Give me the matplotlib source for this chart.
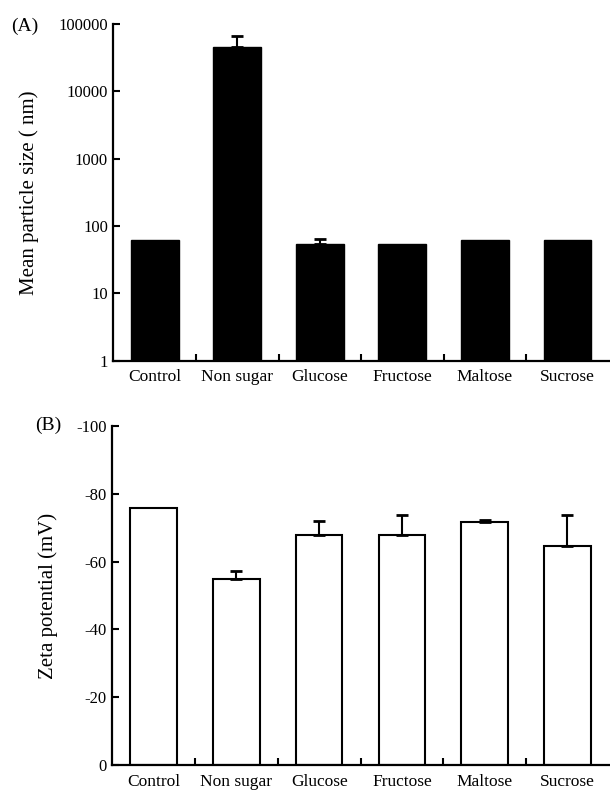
import numpy as np
import matplotlib
matplotlib.use("Agg")
from matplotlib import pyplot as plt

categories = ["Control", "Non sugar", "Glucose", "Fructose", "Maltose", "Sucrose"]
size_nm = [61, 44700, 54.5, 54, 61, 61]
size_err = [0, 21000, 10, 0, 0, 0]
zeta_mv = [-75.7, -54.9, -67.8, -67.8, -71.6, -64.7]
zeta_err = [0, 2.4, 4.3, 5.8, 0.7, 9.1]

plt.rcParams['font.family'] = ['Liberation Serif', 'DejaVu Serif']
plt.rcParams['font.size'] = 12


def style_axis(ax, n):
    ax.spines['top'].set_visible(False)
    ax.spines['right'].set_visible(False)
    for s in ['left', 'bottom']:
        ax.spines[s].set_linewidth(1.6)
    ax.set_xlim(-0.5, n - 0.5)
    ax.set_xticks(np.arange(n))
    ax.set_xticklabels(categories, fontsize=12.5)
    ax.tick_params(axis='x', which='major', length=0, pad=6)
    # ticks between categories
    ax.set_xticks(np.arange(n - 1) + 0.5, minor=True)
    ax.tick_params(axis='x', which='minor', direction='in', length=5, width=1.5)
    ax.tick_params(axis='y', which='major', direction='in', length=5, width=1.5, labelsize=12, pad=4)
    ax.tick_params(axis='y', which='minor', length=0)


def up_errors(ax, x, vals, errs, sign):
    # only draw the bars that have an error, one-sided away from zero
    idx = [i for i, e in enumerate(errs) if e > 0]
    xs = np.array(x)[idx]
    vs = np.array(vals)[idx]
    es = np.array(errs)[idx]
    z = np.zeros(len(idx))
    yerr = [z, es] if sign > 0 else [es, z]
    ax.errorbar(xs, vs, yerr=yerr, fmt='none', ecolor='black',
                elinewidth=1.5, capsize=4, capthick=2)


fig = plt.figure(figsize=(6.1, 7.93), dpi=100)
x = np.arange(len(categories))

# (A) particle size
axA = fig.add_axes([0.186, 0.545, 0.812, 0.425])
axA.bar(x, size_nm, width=0.58, color='black', edgecolor='black')
up_errors(axA, x, size_nm, size_err, 1)
axA.set_yscale('log')
axA.set_ylim(1, 100000)
axA.set_yticks([1, 10, 100, 1000, 10000, 100000])
axA.set_yticklabels(['1', '10', '100', '1000', '10000', '100000'])
style_axis(axA, len(categories))
axA.set_ylabel('Mean particle size ( nm)', fontsize=15)
axA.yaxis.set_label_coords(-0.15, 0.5)
fig.text(0.018, 0.967, '(A)', fontsize=14, va='center')

# (B) zeta potential
axB = fig.add_axes([0.184, 0.035, 0.814, 0.428])
axB.bar(x, zeta_mv, width=0.56, color='white', edgecolor='black', linewidth=1.5)
up_errors(axB, x, zeta_mv, zeta_err, -1)
axB.set_ylim(0, -100)
axB.set_yticks([0, -20, -40, -60, -80, -100])
axB.set_yticklabels(['0', '-20', '-40', '-60', '-80', '-100'])
style_axis(axB, len(categories))
axB.set_ylabel('Zeta potential (mV)', fontsize=15)
axB.yaxis.set_label_coords(-0.11, 0.5)
fig.text(0.057, 0.463, '(B)', fontsize=14, va='center')

plt.savefig('out.png', dpi=100)
